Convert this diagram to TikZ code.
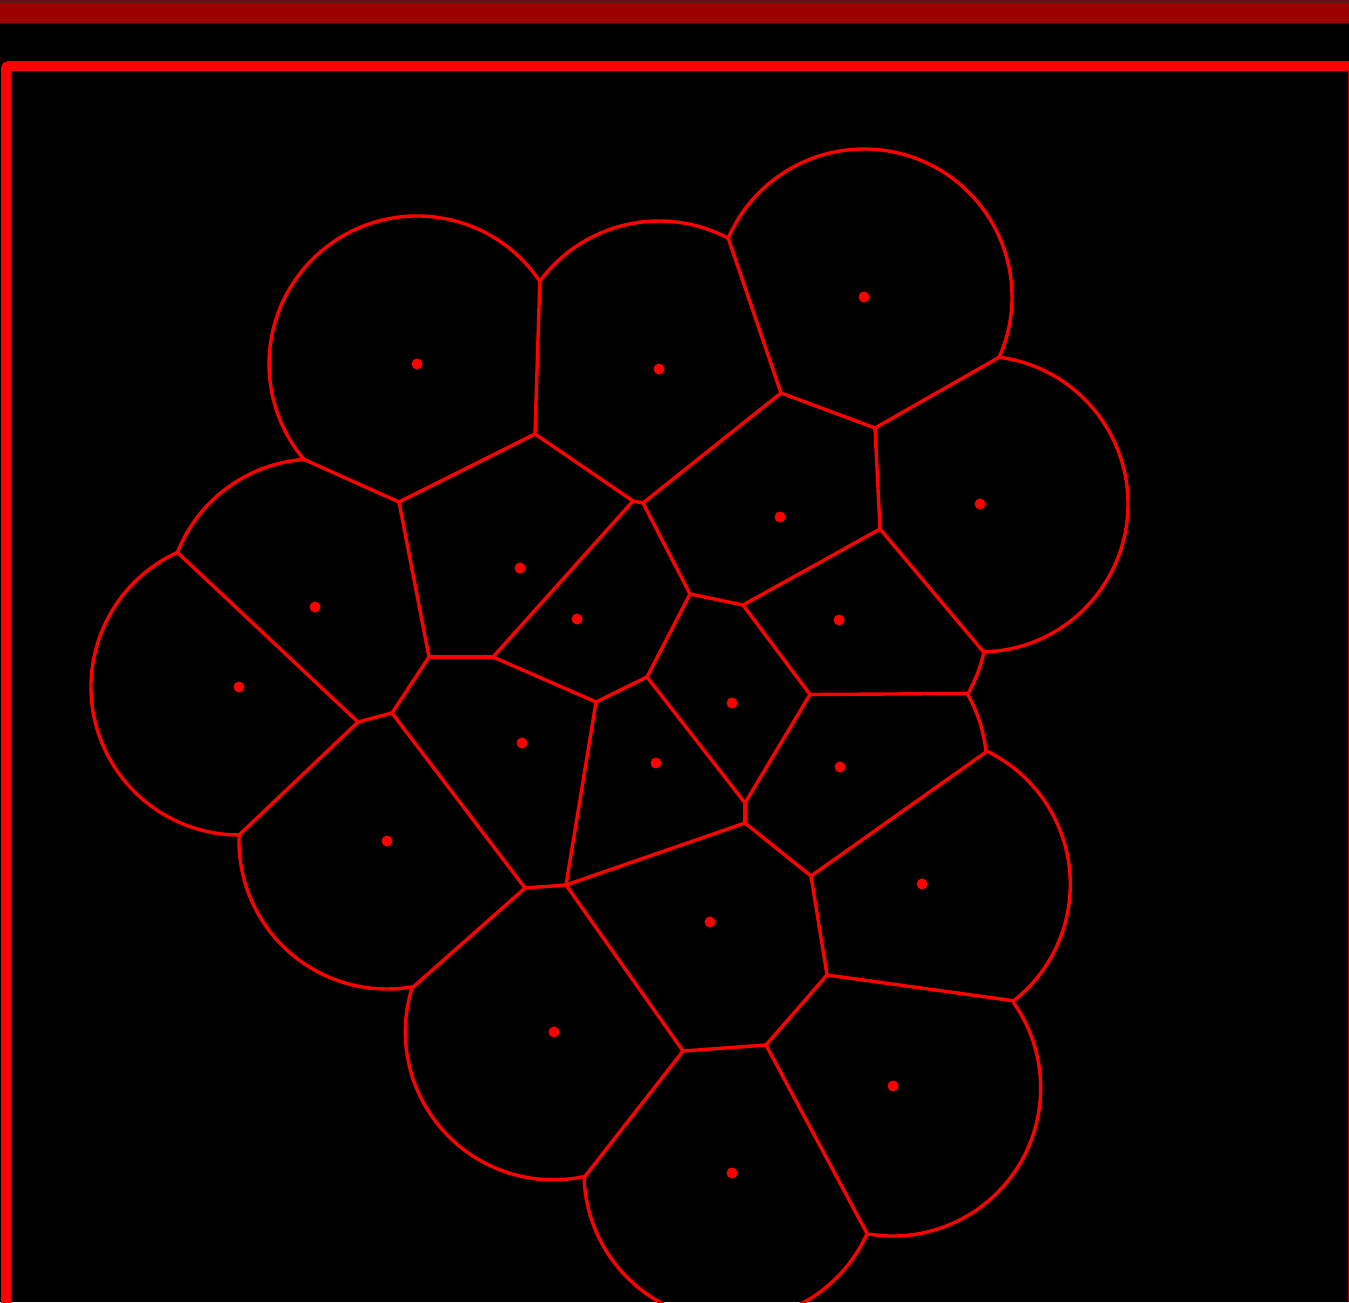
\documentclass[tikz,border=0pt]{standalone}
\usetikzlibrary{calc}
\definecolor{vred}{RGB}{255,0,0}
\definecolor{barred}{RGB}{158,0,0}
\definecolor{topline}{RGB}{90,25,25}
\newcommand\cellarc[3]{\draw[vline] let \p1=($(#2)-(#1)$), \p2=($(#3)-(#1)$),
  \n1={atan2(\y1,\x1)}, \n2={atan2(\y2,\x2)}, \n3={mod(\n2-\n1+720,360)} in
  (#2) arc[start angle=\n1, delta angle=\n3, radius=148pt];}
\begin{document}
\begin{tikzpicture}[x=1pt,y=-1pt,
  vline/.style={draw=vred,line width=3.4pt,line join=round,line cap=round},
  site/.style={circle,fill=vred,inner sep=0pt,minimum size=11pt},
  frame/.style={draw=vred,line width=10pt}]
\useasboundingbox (0,0) rectangle (1349,1302);
\clip (0,0) rectangle (1349,1302);
\fill[black] (0,0) rectangle (1349,1302);
\fill[barred] (0,0) rectangle (1349,23);
\fill[topline] (0,0) rectangle (1349,2.5);
\draw[frame,rounded corners=3pt] (1400,66) -- (6,66) -- (6,1400);
\draw[draw=barred,line width=1.5pt] (1348.5,71) -- (1348.5,1302);
% sites
\node[site] (s1) at (417,364) {};
\node[site] (s2) at (659,369) {};
\node[site] (s3) at (864,297) {};
\node[site] (s4) at (980,504) {};
\node[site] (s5) at (780,517) {};
\node[site] (s6) at (520,568) {};
\node[site] (s7) at (577,619) {};
\node[site] (s8) at (315,607) {};
\node[site] (s9) at (239,687) {};
\node[site] (s10) at (839,620) {};
\node[site] (s11) at (732,703) {};
\node[site] (s12) at (522,743) {};
\node[site] (s13) at (656,763) {};
\node[site] (s14) at (840,767) {};
\node[site] (s15) at (387,841) {};
\node[site] (s16) at (922,884) {};
\node[site] (s17) at (710,922) {};
\node[site] (s18) at (554,1032) {};
\node[site] (s19) at (893,1086) {};
\node[site] (s20) at (732,1173) {};
% vertices
\coordinate (A) at (539.8,281.3);
\coordinate (B) at (535,434);
\coordinate (C) at (399,502);
\coordinate (D) at (303.9,459.4);
\coordinate (E1) at (633,501);
\coordinate (E2) at (643,503);
\coordinate (F) at (728.2,238.2);
\coordinate (G) at (781,393);
\coordinate (H) at (875,428);
\coordinate (I) at (999.2,357.2);
\coordinate (J) at (880,529);
\coordinate (K) at (743,605);
\coordinate (L) at (690,594);
\coordinate (M) at (983.5,651.9);
\coordinate (M2) at (968,693.5);
\coordinate (N) at (810,694.5);
\coordinate (O1) at (745,803);
\coordinate (O2) at (745,823);
\coordinate (P) at (647,677);
\coordinate (Q) at (596,702);
\coordinate (R) at (493,657);
\coordinate (S) at (429,657);
\coordinate (T) at (392,713);
\coordinate (U) at (358,722);
\coordinate (V) at (177.4,552.4);
\coordinate (W) at (239.1,835);
\coordinate (W2) at (412,988);
\coordinate (X1) at (525,888);
\coordinate (X2) at (566,885);
\coordinate (Y) at (811,876);
\coordinate (Y2) at (827,975);
\coordinate (Z) at (986,752);
\coordinate (Z2) at (1013.6,1000.8);
\coordinate (Z3) at (867.2,1233.8);
\coordinate (Z4) at (584.1,1177.5);
\coordinate (BB1) at (683,1051);
\coordinate (BB2) at (766,1045);
% edges
\draw[vline] (A) -- (B);
\draw[vline] (B) -- (C);
\draw[vline] (C) -- (D);
\draw[vline] (B) -- (E1);
\draw[vline] (E1) -- (E2);
\draw[vline] (E2) -- (G);
\draw[vline] (G) -- (F);
\draw[vline] (G) -- (H);
\draw[vline] (H) -- (I);
\draw[vline] (H) -- (J);
\draw[vline] (J) -- (M);
\draw[vline] (J) -- (K);
\draw[vline] (K) -- (L);
\draw[vline] (L) -- (E2);
\draw[vline] (E1) -- (R);
\draw[vline] (R) -- (S);
\draw[vline] (S) -- (C);
\draw[vline] (R) -- (Q);
\draw[vline] (Q) -- (P);
\draw[vline] (P) -- (L);
\draw[vline] (S) -- (T);
\draw[vline] (T) -- (U);
\draw[vline] (U) -- (V);
\draw[vline] (U) -- (W);
\draw[vline] (K) -- (N);
\draw[vline] (N) -- (M2);
\draw[vline] (N) -- (O1);
\draw[vline] (P) -- (O1);
\draw[vline] (O1) -- (O2);
\draw[vline] (O2) -- (X2);
\draw[vline] (Q) -- (X2);
\draw[vline] (T) -- (X1);
\draw[vline] (X1) -- (X2);
\draw[vline] (X1) -- (W2);
\draw[vline] (O2) -- (Y);
\draw[vline] (Y) -- (Z);
\draw[vline] (Y) -- (Y2);
\draw[vline] (Y2) -- (Z2);
\draw[vline] (Y2) -- (BB2);
\draw[vline] (BB2) -- (BB1);
\draw[vline] (BB1) -- (X2);
\draw[vline] (BB1) -- (Z4);
\draw[vline] (BB2) -- (Z3);
% arcs
\cellarc{s1}{A}{D}
\cellarc{s2}{F}{A}
\cellarc{s3}{I}{F}
\cellarc{s4}{M}{I}
\cellarc{s10}{M2}{M}
\cellarc{s14}{Z}{M2}
\cellarc{s16}{Z2}{Z}
\cellarc{s19}{Z3}{Z2}
\cellarc{s20}{Z4}{Z3}
\cellarc{s18}{W2}{Z4}
\cellarc{s15}{W}{W2}
\cellarc{s9}{V}{W}
\cellarc{s8}{D}{V}
\end{tikzpicture}
\end{document}
